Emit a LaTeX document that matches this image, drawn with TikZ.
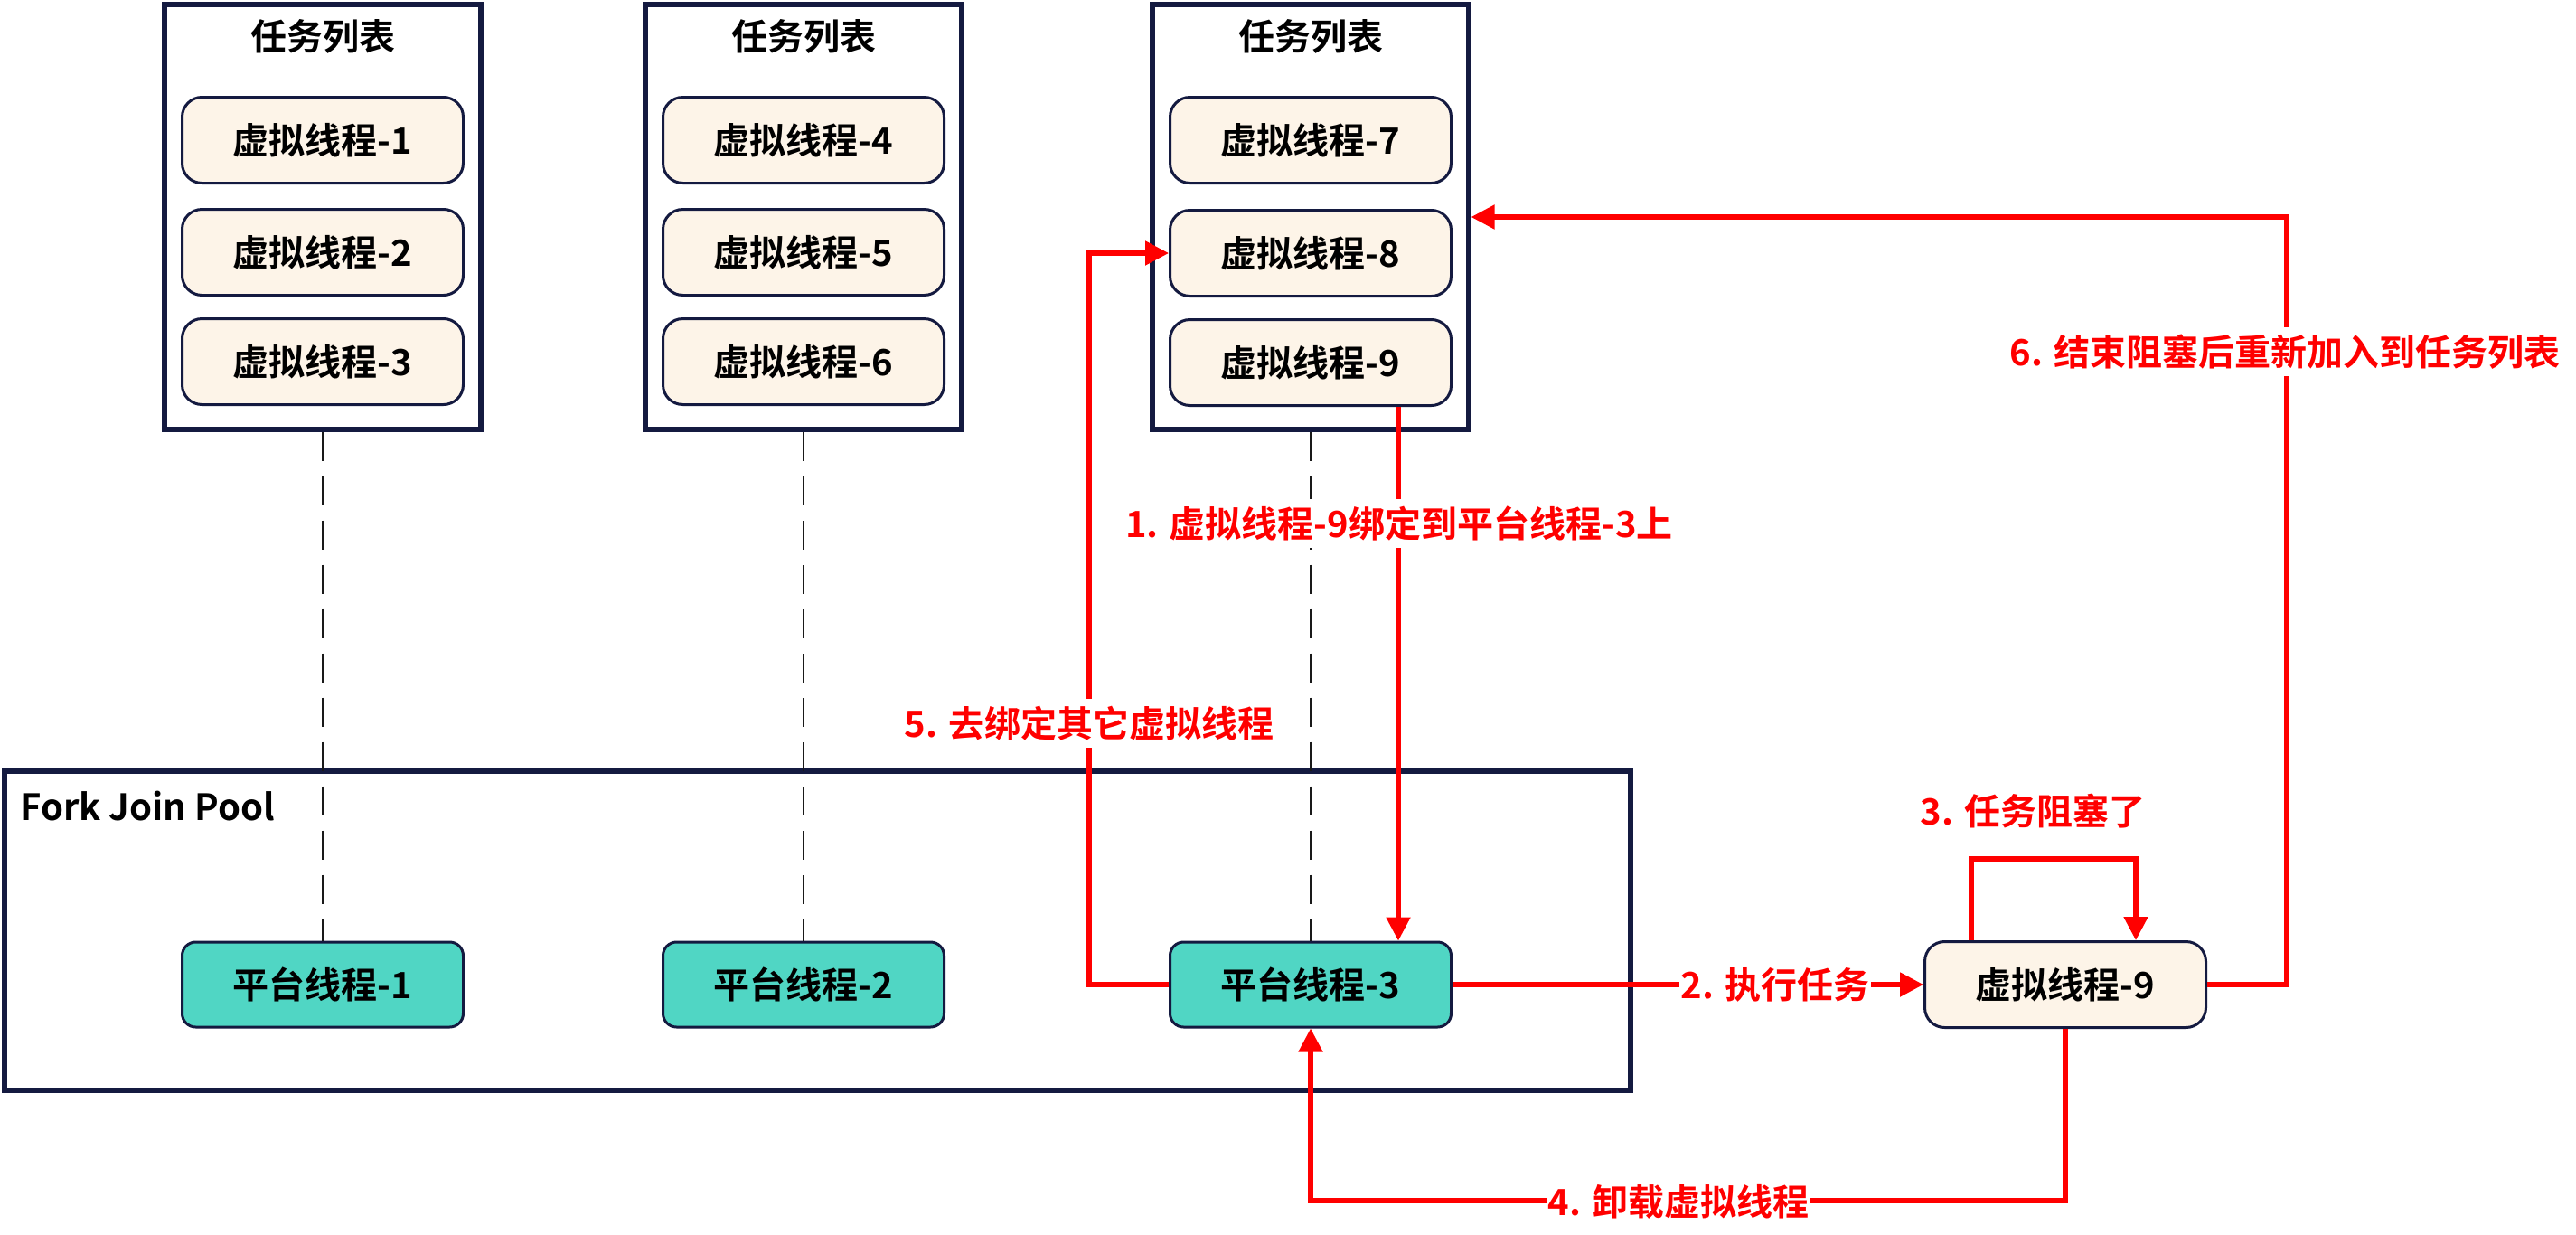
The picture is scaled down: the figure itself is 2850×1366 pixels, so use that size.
\documentclass[tikz,border=0pt]{standalone}
\usepackage{fontspec}
\setmainfont{Noto Sans CJK SC}[BoldFont={Noto Sans CJK SC Bold}]
\usetikzlibrary{arrows.meta}
\definecolor{navy}{HTML}{141A40}
\definecolor{creamc}{HTML}{FDF4E8}
\definecolor{tealc}{HTML}{50D6C4}
\definecolor{redc}{HTML}{FF0000}
\begin{document}
\begin{tikzpicture}[x=0.5pt,y=-0.5pt,
  every node/.style={font=\fontsize{20pt}{24pt}\selectfont\bfseries, inner sep=0pt},
  tasklist/.style={draw=navy, line width=2.6pt, fill=white, minimum width=175pt, minimum height=235pt},
  titletext/.style={text=black},
  vtbox/.style={draw=navy, line width=1.5pt, fill=creamc, rounded corners=11pt, minimum width=155.5pt, minimum height=47.5pt},
  ptbox/.style={draw=navy, line width=1.5pt, fill=tealc, rounded corners=7.5pt, minimum width=155.5pt, minimum height=47pt},
  poolbox/.style={draw=navy, line width=2.6pt, minimum width=899.5pt, minimum height=176.5pt},
  dashline/.style={draw=black!90, line width=1.2pt, dash pattern=on 16pt off 8.5pt},
  redarrow/.style={draw=redc, line width=2.6pt, -{Triangle[length=13pt,width=13pt]}},
  redlbl/.style={text=redc, fill=white, inner xsep=1pt, inner ysep=4pt},
  redtext/.style={text=redc}
]
\useasboundingbox[fill=white] (0,0) rectangle (2850,1366);

% Fork Join Pool
\node[poolbox] (pool) at (904.5,1029.5) {};
\node[anchor=west] (poollbl) at (22,892) {Fork Join Pool};

% task lists
\node[tasklist] (tl1) at (357,240) {};
\node[tasklist] (tl2) at (889,240) {};
\node[tasklist] (tl3) at (1450,240) {};
\node[titletext] (t1) at (357,40) {任务列表};
\node[titletext] (t2) at (889,40) {任务列表};
\node[titletext] (t3) at (1450,40) {任务列表};

\node[vtbox] (vt1) at (357,155) {虚拟线程-1};
\node[vtbox] (vt2) at (357,279) {虚拟线程-2};
\node[vtbox] (vt3) at (357,400) {虚拟线程-3};
\node[vtbox] (vt4) at (889,155) {虚拟线程-4};
\node[vtbox] (vt5) at (889,279) {虚拟线程-5};
\node[vtbox] (vt6) at (889,400) {虚拟线程-6};
\node[vtbox] (vt7) at (1450,155) {虚拟线程-7};
\node[vtbox] (vt8) at (1450,280) {虚拟线程-8};
\node[vtbox] (vt9) at (1450,401) {虚拟线程-9};

% platform threads
\node[ptbox] (pt1) at (357,1089) {平台线程-1};
\node[ptbox] (pt2) at (889,1089) {平台线程-2};
\node[ptbox] (pt3) at (1450,1089) {平台线程-3};

% dashed bindings
\draw[dashline] (tl1.south) -- (pt1.north);
\draw[dashline] (tl2.south) -- (pt2.north);
\draw[dashline] (tl3.south) -- (pt3.north);

% detached virtual thread
\node[vtbox] (vtb) at (2285,1089) {虚拟线程-9};

% arrows
\draw[redarrow] ([xshift=48.5pt]vt9.south) -- ([xshift=48.5pt]pt3.north);
\draw[redarrow] (pt3.east) -- (vtb.west)
  node[redlbl, pos=0.685] (l2) {2. 执行任务};
\draw[redarrow] ([xshift=-52pt]vtb.north) -- ++(0,-90) -| ([xshift=39pt]vtb.north);
\draw[redarrow] (vtb.south) -- ++(0,190) -| (pt3.south);
\draw[redarrow] (pt3.west) -- ++(-88,0) |- (vt8.west);
\draw[redarrow] (vtb.east) -- ++(87.5,0) |- (tl3.east);

% labels
\node[redlbl] (l1) at (1548,579) {1. 虚拟线程-9绑定到平台线程-3上};
\node[redtext] (l3) at (2249,897) {3. 任务阻塞了};
\node[redlbl] (l4) at (1857,1329) {4. 卸载虚拟线程};
\node[redlbl] (l5) at (1205,800) {5. 去绑定其它虚拟线程};
\node[redlbl] (l6) at (2528,389) {6. 结束阻塞后重新加入到任务列表};
\end{tikzpicture}
\end{document}
